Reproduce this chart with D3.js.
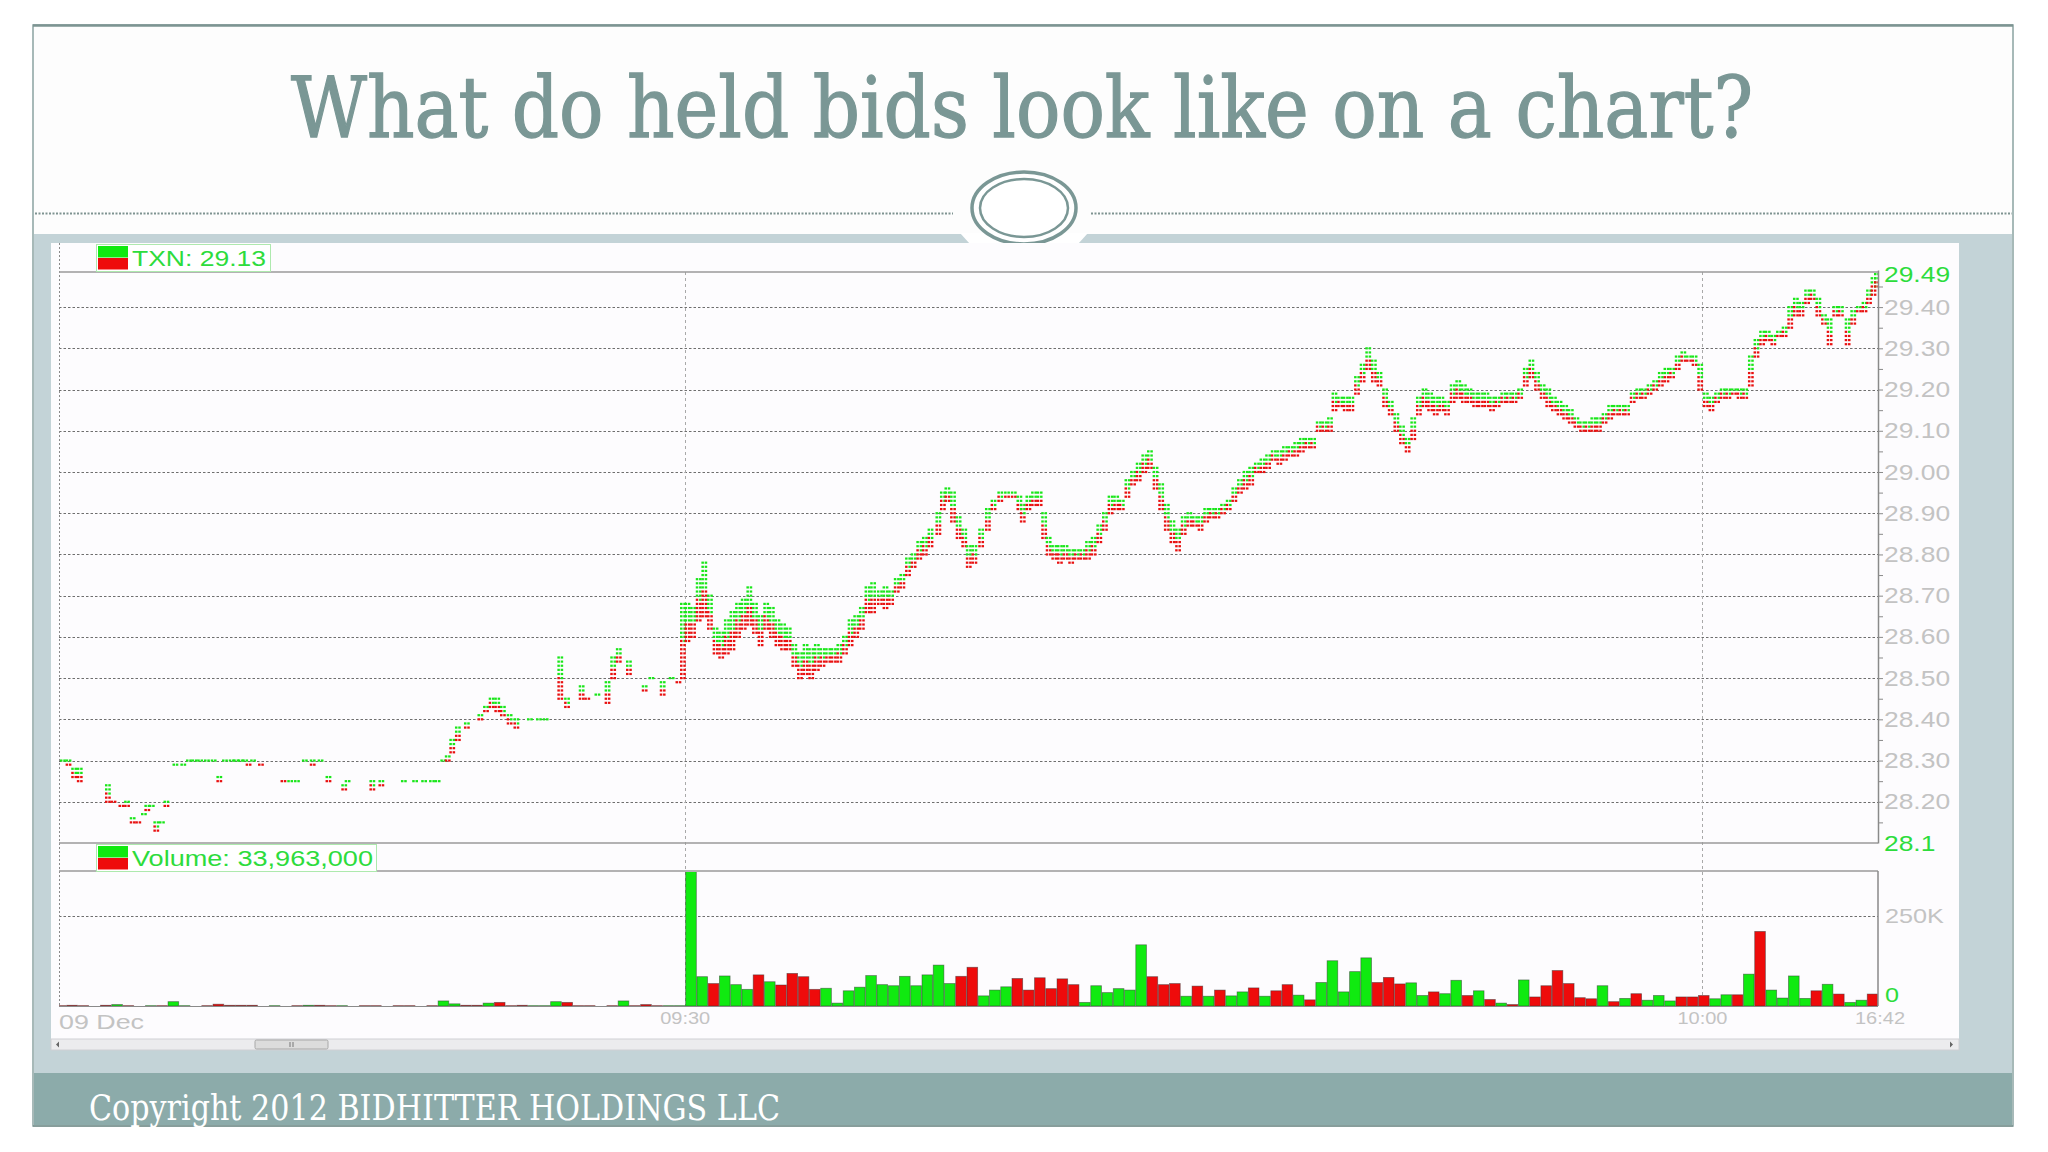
<!DOCTYPE html>
<html><head><meta charset="utf-8">
<script src="https://cdnjs.cloudflare.com/ajax/libs/d3/7.8.5/d3.min.js"></script>
<style>html,body{margin:0;padding:0;background:#fff;overflow:hidden}</style>
</head><body><svg id="c" width="2048" height="1152"></svg>
<script>
// ---------------- data ----------------
const titleText = "What do held bids look like on a chart?";
const footerText = "Copyright 2012 BIDHITTER HOLDINGS LLC";
const priceLegend = "TXN: 29.13";
const volumeLegend = "Volume: 33,963,000";
const priceDomain = [28.1, 29.49];
const priceTicks = [28.1, 28.2, 28.3, 28.4, 28.5, 28.6, 28.7, 28.8, 28.9, 29.0, 29.1, 29.2, 29.3, 29.4, 29.49];
const priceTickLabels = ["28.1","28.20","28.30","28.40","28.50","28.60","28.70","28.80","28.90","29.00","29.10","29.20","29.30","29.40","29.49"];
const volumeTicks = [0, 250];
const volumeTickLabels = ["0", "250K"];
const dateLabel = "09 Dec";
const timeLabels = ["09:30", "10:00"];
const timeLabelBars = [56, 146.4];
const endLabel = "16:42";
const barCount = 162;

// volume per 20-second bar, in thousands of shares
const volumeK = [1,2,1,0,2,4,1,0,1,1, 12,1,0,1,5,2,2,2,0,1, 0,1,2,2,1,1,0,1,1,0,
  1,1,0,1,14,6,2,2,8,10, 1,2,1,1,12,10,1,1,0,1, 14,1,4,1,1,1,
  380,81,62,83,59,46,86,67,58,90, 81,46,49,8,42,52,84,59,56,82, 56,86,113,62,82,107,28,44,
  53,76,44,78,48,75,59,10,56,37, 48,44,169,81,59,62,27,55,27,44, 28,39,50,27,42,59,30,17,65,125,
  39,95,133,65,79,61,64,29,39,34, 71,29,42,18,8,4,72,25,56,98, 62,23,20,56,12,21,34,16,29,14,
  25,25,29,20,31,31,88,206,44,22, 83,21,42,60,33,10,16,33];
const volumeDir = ("RRRRRGRGGR"+"GGGRRRRRGG"+"GRGRRGGRRG"+"RRGRGGRRGR"+"RRGGGRRRGR"+"GRRRGG"+
  "GGRGGGRGRR"+"RRGGGGGGGG"+"GGGGRRGG"+
  "GRRRRRRGGG"+"GGGRRRGRGR"+"GGRGRRGRGG"+"GGGRRRGGRG"+"GRGRGRGRRR"+"RRRGRGRGGG"+"RRRGGRGRGG"+"GGRGRGGR").split("");

// price tick columns: [bar time, low, high]
const priceCols = [
[0.7,28.30,28.30],[1.2,28.29,28.30],[1.7,28.26,28.28],[2.2,28.25,28.28],
[4.7,28.20,28.24],[5.2,28.20,28.20],[5.9,28.19,28.19],[6.4,28.19,28.20],
[6.9,28.15,28.16],[7.4,28.15,28.15],[7.9,28.17,28.17],[8.2,28.18,28.19],[8.6,28.19,28.19],
[9.0,28.13,28.15],[9.5,28.15,28.15],[9.9,28.19,28.20],
[10.7,28.29,28.29],[11.4,28.29,28.29],[11.9,28.30,28.30],[12.4,28.30,28.30],[12.9,28.30,28.30],[13.5,28.30,28.30],[14.1,28.30,28.30],[14.6,28.25,28.26],[15.1,28.30,28.30],[15.7,28.30,28.30],[16.1,28.30,28.30],[16.5,28.30,28.30],[16.9,28.30,28.30],[17.2,28.29,28.29],[17.6,28.30,28.30],[18.3,28.29,28.29],
[20.3,28.25,28.25],[20.9,28.25,28.25],[21.5,28.25,28.25],[22.2,28.30,28.30],[22.9,28.29,28.30],[23.6,28.30,28.30],
[24.3,28.25,28.26],[25.7,28.23,28.24],[26.0,28.25,28.25],
[28.2,28.23,28.25],[29.0,28.24,28.25],
[31.0,28.25,28.25],[32.0,28.25,28.25],[32.8,28.25,28.25],[33.5,28.25,28.25],[34.0,28.25,28.25],
[34.5,28.30,28.30],[34.9,28.30,28.31],[35.3,28.32,28.35],[35.8,28.35,28.38],[36.6,28.38,28.39],
[37.8,28.40,28.41],[38.3,28.42,28.43],[38.8,28.43,28.45],[39.3,28.42,28.45],[39.8,28.41,28.43],[40.4,28.39,28.41],[41.0,28.38,28.40],
[42.2,28.40,28.40],[43.0,28.40,28.40],[43.6,28.40,28.40],
[44.9,28.45,28.55],[45.5,28.43,28.45],[46.8,28.45,28.48],[47.3,28.45,28.45],[48.2,28.46,28.46],
[49.1,28.44,28.49],[49.6,28.50,28.55],[50.1,28.54,28.57],[51.0,28.51,28.54],[52.4,28.47,28.48],
[53.0,28.50,28.50],[54.0,28.46,28.49],[54.8,28.50,28.50],[55.4,28.49,28.49],
[55.8,28.50,28.68],[56.2,28.59,28.68],[56.7,28.60,28.67],[57.2,28.64,28.74],[57.7,28.65,28.78],[58.2,28.62,28.70],[58.7,28.56,28.62],[59.2,28.55,28.61],[59.7,28.56,28.64],[60.2,28.57,28.66],
[60.7,28.60,28.68],[61.2,28.62,28.69],[61.7,28.63,28.72],[62.2,28.61,28.68],[62.7,28.58,28.65],[63.2,28.62,28.68],[63.7,28.60,28.67],[64.2,28.58,28.64],[64.7,28.57,28.63],[65.2,28.57,28.62],
[65.7,28.53,28.58],[66.2,28.50,28.56],[66.7,28.51,28.58],[67.2,28.50,28.57],[67.7,28.52,28.58],[68.2,28.53,28.57],[68.7,28.54,28.57],[69.2,28.54,28.57],[69.7,28.54,28.58],[70.2,28.56,28.60],
[70.7,28.58,28.64],[71.2,28.60,28.65],[71.7,28.62,28.67],[72.2,28.66,28.72],[72.7,28.66,28.73],[73.3,28.68,28.71],[73.8,28.67,28.72],[74.3,28.68,28.71],[74.8,28.71,28.74],[75.3,28.72,28.75],
[75.8,28.75,28.79],[76.3,28.77,28.80],[76.8,28.79,28.83],[77.3,28.80,28.84],[77.8,28.82,28.86],[78.5,28.85,28.90],[78.9,28.91,28.95],[79.3,28.93,28.96],[79.8,28.88,28.95],[80.3,28.84,28.89],
[80.8,28.82,28.86],[81.2,28.77,28.82],[81.7,28.78,28.82],[82.3,28.82,28.86],[82.9,28.86,28.91],[83.4,28.91,28.93],[84.0,28.93,28.95],[84.6,28.94,28.95],[85.2,28.94,28.95],[85.7,28.91,28.94],
[86.0,28.88,28.92],[86.5,28.91,28.94],[87.0,28.92,28.95],[87.5,28.92,28.95],[87.9,28.84,28.90],[88.3,28.80,28.84],[88.8,28.79,28.82],[89.3,28.78,28.82],[89.8,28.79,28.82],[90.3,28.78,28.81],
[90.8,28.79,28.81],[91.3,28.79,28.81],[91.8,28.79,28.83],[92.3,28.80,28.84],[92.8,28.83,28.87],[93.3,28.86,28.90],[93.8,28.90,28.94],[94.3,28.91,28.94],[94.8,28.91,28.93],[95.3,28.94,28.98],
[95.8,28.97,29.00],[96.3,28.98,29.02],[96.8,29.00,29.04],[97.3,29.01,29.05],[97.8,28.96,29.01],[98.3,28.91,28.97],[98.8,28.86,28.92],[99.3,28.83,28.88],[99.8,28.81,28.86],[100.3,28.85,28.89],
[100.8,28.87,28.90],[101.3,28.87,28.89],[101.8,28.86,28.89],[102.3,28.88,28.91],[102.8,28.89,28.91],[103.3,28.89,28.91],[103.8,28.90,28.92],[104.3,28.91,28.93],[104.8,28.93,28.96],[105.3,28.95,28.98],
[105.8,28.96,29.00],[106.3,28.97,29.01],[106.8,29.00,29.02],[107.3,29.00,29.03],[107.8,29.01,29.04],[108.3,29.03,29.05],[108.8,29.02,29.05],[109.3,29.03,29.06],[109.8,29.04,29.06],[110.3,29.04,29.07],
[110.8,29.05,29.08],[111.3,29.06,29.08],[111.8,29.06,29.08],[112.3,29.10,29.12],[112.8,29.10,29.12],[113.3,29.10,29.13],[113.7,29.15,29.19],[114.2,29.16,29.18],[114.7,29.15,29.18],[115.2,29.15,29.18],
[115.7,29.19,29.23],[116.2,29.22,29.26],[116.7,29.25,29.30],[117.2,29.22,29.27],[117.7,29.21,29.24],[118.2,29.16,29.20],[118.7,29.14,29.17],[119.2,29.10,29.14],[119.7,29.07,29.11],[120.2,29.05,29.08],
[120.7,29.08,29.13],[121.2,29.14,29.18],[121.7,29.16,29.20],[122.2,29.15,29.19],[122.7,29.14,29.18],[123.2,29.15,29.18],[123.7,29.14,29.17],[124.2,29.17,29.21],[124.7,29.18,29.22],[125.2,29.17,29.21],
[125.7,29.17,29.20],[126.2,29.16,29.19],[126.7,29.16,29.19],[127.2,29.16,29.19],[127.7,29.15,29.18],[128.2,29.16,29.18],[128.7,29.17,29.19],[129.2,29.17,29.19],[129.7,29.17,29.19],[130.2,29.18,29.20],
[130.7,29.21,29.25],[131.2,29.23,29.27],[131.7,29.20,29.24],[132.2,29.18,29.21],[132.7,29.16,29.20],[133.2,29.15,29.18],[133.7,29.14,29.17],[134.2,29.13,29.16],[134.7,29.12,29.15],[135.2,29.11,29.13],
[135.7,29.10,29.12],[136.2,29.10,29.12],[136.7,29.10,29.13],[137.2,29.10,29.13],[137.7,29.12,29.14],[138.2,29.13,29.16],[138.7,29.14,29.16],[139.2,29.14,29.16],[139.7,29.14,29.16],[140.2,29.17,29.19],
[140.7,29.18,29.20],[141.2,29.18,29.20],[141.7,29.19,29.21],[142.2,29.20,29.22],[142.7,29.21,29.24],[143.2,29.22,29.25],[143.7,29.23,29.25],[144.2,29.25,29.28],[144.7,29.27,29.29],[145.2,29.27,29.28],
[145.7,29.26,29.28],[146.2,29.20,29.26],[146.7,29.16,29.19],[147.2,29.15,29.18],[147.7,29.17,29.19],[148.2,29.18,29.20],[148.7,29.18,29.20],[149.2,29.19,29.20],[149.7,29.18,29.20],[150.2,29.18,29.20],
[150.7,29.21,29.28],[151.2,29.28,29.32],[151.7,29.31,29.34],[152.2,29.32,29.34],[152.7,29.31,29.33],[153.2,29.33,29.34],[153.7,29.33,29.35],[154.2,29.35,29.40],[154.7,29.38,29.42],[155.2,29.38,29.41],
[155.7,29.41,29.44],[156.2,29.42,29.44],[156.7,29.38,29.42],[157.2,29.36,29.38],[157.7,29.31,29.37],[158.2,29.38,29.40],[158.7,29.38,29.40],[159.3,29.31,29.37],[159.8,29.36,29.39],[160.3,29.39,29.40],
[160.8,29.39,29.41],[161.2,29.41,29.44],[161.6,29.43,29.47],[161.9,29.45,29.48]
];

// ---------------- drawing ----------------
const GREEN = "#19e619", RED = "#e81010", TXTG = "#2ddc3c", TEAL = "#7a9795";
const svg = d3.select("#c");
const sans = "'Liberation Sans', Arial, sans-serif";
const serif = "'DejaVu Serif', serif";
function fitText(sel, w){ sel.attr("textLength", w).attr("lengthAdjust","spacingAndGlyphs"); }
function stretch(sel, k){ sel.each(function(){ const w=this.getComputedTextLength(); d3.select(this).attr("textLength", w*k).attr("lengthAdjust","spacingAndGlyphs"); }); }

svg.append("rect").attr("width",2048).attr("height",1152).attr("fill","#ffffff");
// slide frame
svg.append("rect").attr("x",33).attr("y",25).attr("width",1980).attr("height",1101).attr("fill","#fdfdfd").attr("stroke","#8aa3a1").attr("stroke-width",1.5);
svg.append("line").attr("x1",33).attr("x2",2013).attr("y1",25.5).attr("y2",25.5).attr("stroke","#7d9492").attr("stroke-width",2.5);
svg.append("rect").attr("x",34).attr("y",234).attr("width",1978).attr("height",839).attr("fill","#c3d3d7");
svg.append("rect").attr("x",34).attr("y",1073).attr("width",1978).attr("height",52).attr("fill","#8cabaa");
svg.append("line").attr("x1",33).attr("x2",2013).attr("y1",1126).attr("y2",1126).attr("stroke","#7d9492").attr("stroke-width",1.5);

// title
svg.append("text").attr("x",1022).attr("y",137).attr("text-anchor","middle")
  .attr("font-family",serif).attr("font-size",84).attr("fill",TEAL)
  .attr("stroke",TEAL).attr("stroke-width",1.3).text(titleText).call(fitText,1462);

// dashed divider + ornament
[[35,953],[1091,2012]].forEach(([a,b])=>svg.append("line").attr("x1",a).attr("x2",b).attr("y1",213.5).attr("y2",213.5)
  .attr("stroke","#7f9391").attr("stroke-width",2).attr("stroke-dasharray","2,1.5"));
svg.append("polygon").attr("points","960,233 1088,233 1078,244 970,244").attr("fill","#ffffff");
svg.append("ellipse").attr("cx",1024).attr("cy",208).attr("rx",52).attr("ry",36).attr("fill","#ffffff").attr("stroke",TEAL).attr("stroke-width",3.5);
svg.append("ellipse").attr("cx",1024).attr("cy",208).attr("rx",44).attr("ry",29).attr("fill","none").attr("stroke",TEAL).attr("stroke-width",2.5);

// chart panel
svg.append("rect").attr("x",51).attr("y",243).attr("width",1908).attr("height",796).attr("fill","#fdfcfe");
// scrollbar
svg.append("rect").attr("x",51).attr("y",1039).attr("width",1908).attr("height",11).attr("fill","#ececee").attr("stroke","#d0d0d4").attr("stroke-width",1);
svg.append("rect").attr("x",255).attr("y",1040).attr("width",73).attr("height",9).attr("rx",1.5).attr("fill","#dcdcdc").attr("stroke","#a8a8a8").attr("stroke-width",1);
svg.append("path").attr("d","M290,1042v5M293,1042v5").attr("stroke","#777").attr("stroke-width",1);
svg.append("path").attr("d","M56,1044.5l3,-3v6z M1953,1044.5l-3,-3v6z").attr("fill","#666");

// scales
const x = d3.scaleLinear().domain([0, barCount]).range([55, 1878]);
const yP = d3.scaleLinear().domain(priceDomain).range([843, 270]);
const yV = d3.scaleLinear().domain([0, 250]).range([1006, 915.5]);
const L = 59, R = 1878;

const defs = svg.append("defs");
defs.append("clipPath").attr("id","cp").append("rect").attr("x",L).attr("y",271).attr("width",R-L).attr("height",573);
defs.append("clipPath").attr("id","cv").append("rect").attr("x",L).attr("y",872).attr("width",R-L).attr("height",134);

// horizontal price grid
svg.append("g").selectAll("line").data(priceTicks.filter((d,i)=>i>0 && i<priceTicks.length-1)).join("line")
  .attr("x1",L).attr("x2",R).attr("y1",d=>Math.round(yP(d))+0.5).attr("y2",d=>Math.round(yP(d))+0.5)
  .attr("stroke","#6e6e6e").attr("stroke-width",1).attr("stroke-dasharray","2.5,2");
// volume grid 250K
svg.append("line").attr("x1",L).attr("x2",R).attr("y1",Math.round(yV(250))+0.5).attr("y2",Math.round(yV(250))+0.5)
  .attr("stroke","#6e6e6e").attr("stroke-width",1).attr("stroke-dasharray","2.5,2");
// vertical time grid
svg.append("g").selectAll("line").data(timeLabelBars).join("line")
  .attr("x1",d=>Math.round(x(d))+0.5).attr("x2",d=>Math.round(x(d))+0.5).attr("y1",272).attr("y2",1006)
  .attr("stroke","#a9a9a9").attr("stroke-width",1).attr("stroke-dasharray","3,3");
// left dashed border
svg.append("line").attr("x1",L+0.5).attr("x2",L+0.5).attr("y1",243).attr("y2",1006).attr("stroke","#8a8a8a").attr("stroke-dasharray","2,2");

// panel borders
[272, 843, 871].forEach(yy=>svg.append("line").attr("x1",L).attr("x2",R).attr("y1",yy).attr("y2",yy).attr("stroke","#9a9a9a").attr("stroke-width",1.6));
svg.append("line").attr("x1",L).attr("x2",R).attr("y1",1006.5).attr("y2",1006.5).attr("stroke","#8a8a8a").attr("stroke-width",1.2);

// volume bars
svg.append("g").attr("clip-path","url(#cv)").selectAll("rect").data(volumeK).join("rect")
  .attr("x",(d,i)=>x(i)+0.5).attr("width",(d,i)=>x(i+1)-x(i)-0.6)
  .attr("y",d=>yV(d)).attr("height",d=>yV(0)-yV(d))
  .attr("fill",(d,i)=>volumeDir[i]==="G"?"#10ea10":"#ee0b0b")
  .attr("stroke","rgba(50,50,50,0.55)").attr("stroke-width",0.8);

// price tick dashes
const dashes = [];
let prevMid = null;
priceCols.forEach(([t, lo, hi]) => {
  const a = Math.round(lo*100), b = Math.round(hi*100), n = b - a + 1;
  for (let c = a; c <= b; c++) {
    const k = c - a;
    let cl, cr;
    if (n === 1) { const up = prevMid === null || c >= prevMid; cl = cr = up ? GREEN : RED; }
    else { cl = k > (n-1)/2 ? GREEN : RED; cr = k >= (n-1)/2 ? GREEN : RED; }
    dashes.push({t, p:c/100, dx:-2.9, col:cl}, {t, p:c/100, dx:0.4, col:cr});
  }
  prevMid = (a+b)/2;
});
svg.append("g").attr("clip-path","url(#cp)").selectAll("rect").data(dashes).join("rect")
  .attr("x",d=>x(d.t)+d.dx).attr("y",d=>yP(d.p)-1.1).attr("width",2.5).attr("height",2.2).attr("fill",d=>d.col);

// price axis
const gP = svg.append("g").attr("transform",`translate(${R},0)`);
gP.call(d3.axisRight(yP).tickValues(d3.range(28.15, 29.46, 0.05)).tickSize(5).tickSizeOuter(0).tickFormat(""));
gP.select(".domain").attr("stroke","#8a8a8a").attr("stroke-width",1.5);
gP.selectAll(".tick line").attr("stroke","#8a8a8a");
const gPL = svg.append("g").attr("transform",`translate(${R},0)`);
gPL.call(d3.axisRight(yP).tickValues(priceTicks).tickSize(0).tickPadding(6).tickFormat((d,i)=>priceTickLabels[i]));
gPL.select(".domain").remove();
gPL.selectAll("text").attr("font-family",sans).attr("font-size",22)
  .attr("fill",(d,i)=> (i===0||i===priceTicks.length-1) ? TXTG : "#c3c3c3")
  .attr("dy",(d,i)=> i===priceTicks.length-1 ? "0.5em" : "0.32em").call(stretch,1.2);

// volume axis
svg.append("line").attr("x1",R).attr("x2",R).attr("y1",871).attr("y2",1006).attr("stroke","#8a8a8a").attr("stroke-width",1.5);
const gV = svg.append("g").attr("transform",`translate(${R},0)`);
gV.call(d3.axisRight(yV).tickValues(volumeTicks).tickSize(0).tickPadding(7).tickFormat((d,i)=>volumeTickLabels[i]));
gV.select(".domain").remove();
gV.selectAll("text").attr("font-family",sans).attr("font-size",21)
  .attr("fill",(d,i)=> i===0 ? TXTG : "#c3c3c3")
  .attr("dy",(d,i)=> i===0 ? "-0.2em" : "0.32em").call(stretch,1.2);

// time axis labels
svg.append("text").attr("x",L).attr("y",1029).attr("font-family",sans).attr("font-size",21).attr("fill","#c3c3c3").text(dateLabel).call(fitText,85);
svg.append("g").selectAll("text").data(timeLabels).join("text")
  .attr("x",(d,i)=>x(timeLabelBars[i])).attr("y",1024).attr("text-anchor","middle")
  .attr("font-family",sans).attr("font-size",16).attr("fill","#c3c3c3").text(d=>d).call(fitText,50);
svg.append("text").attr("x",1880).attr("y",1024).attr("text-anchor","middle")
  .attr("font-family",sans).attr("font-size",16).attr("fill","#c3c3c3").text(endLabel).call(fitText,50);

// legends
function legend(y0, label, w, tw){
  const g = svg.append("g");
  g.append("rect").attr("x",96.5).attr("y",y0+0.5).attr("width",w).attr("height",27).attr("fill","#ffffff").attr("stroke","#aee9ae").attr("stroke-width",1);
  g.append("rect").attr("x",98).attr("y",y0+2).attr("width",30).attr("height",11.5).attr("fill","#10ea10");
  g.append("rect").attr("x",98).attr("y",y0+14).attr("width",30).attr("height",11.5).attr("fill","#ee0b0b");
  g.append("text").attr("x",132).attr("y",y0+22).attr("font-family",sans).attr("font-size",22).attr("fill",TXTG).text(label).call(fitText,tw);
}
legend(244, priceLegend, 174, 134);
legend(844, volumeLegend, 280, 241);

// footer
svg.append("text").attr("x",89).attr("y",1120).attr("font-family",serif).attr("font-size",35).attr("fill","#ffffff").text(footerText).call(fitText,691);
</script></body></html>
